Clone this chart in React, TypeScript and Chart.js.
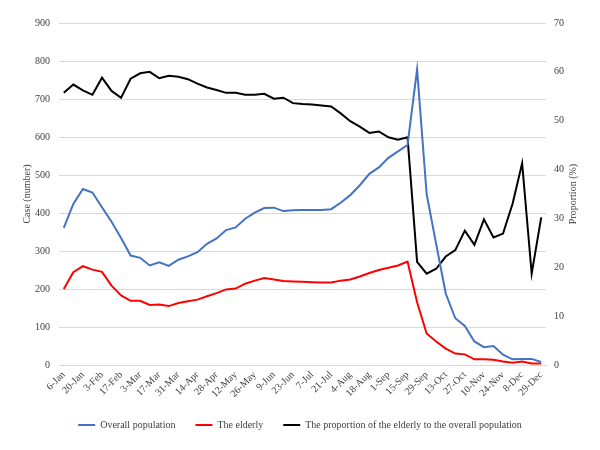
import React, { useEffect, useRef } from "react";
import { Chart, registerables } from "chart.js";
Chart.register(...registerables);

const labels = [
  "6-Jan", "13-Jan", "20-Jan", "27-Jan", "3-Feb", "10-Feb", "17-Feb", "24-Feb",
  "3-Mar", "10-Mar", "17-Mar", "24-Mar", "31-Mar", "7-Apr", "14-Apr", "21-Apr",
  "28-Apr", "5-May", "12-May", "19-May", "26-May", "2-Jun", "9-Jun", "16-Jun",
  "23-Jun", "30-Jun", "7-Jul", "14-Jul", "21-Jul", "28-Jul", "4-Aug", "11-Aug",
  "18-Aug", "25-Aug", "1-Sep", "8-Sep", "15-Sep", "22-Sep", "29-Sep", "6-Oct",
  "13-Oct", "20-Oct", "27-Oct", "3-Nov", "10-Nov", "17-Nov", "24-Nov", "1-Dec",
  "8-Dec", "15-Dec", "29-Dec",
];

const overall = [
  361, 424, 463, 454, 415, 377, 334, 288, 282, 262, 270, 261, 277, 286, 297, 319,
  333, 355, 362, 385, 401, 413, 414, 405, 407, 408, 408, 408, 410, 427, 447, 473,
  503, 520, 545, 562, 579, 778, 450, 318, 188, 123, 103, 62, 47, 50, 27, 15,
  16, 16, 8,
];

const elderly = [
  200, 244, 260, 251, 245, 209, 183, 169, 169, 158, 159, 155, 163, 168, 172, 181,
  189, 199, 201, 214, 222, 229, 225, 221, 220, 219, 218, 217, 217, 222, 225, 233,
  242, 250, 256, 262, 272, 165, 83, 62, 43, 30, 28, 15, 15, 14, 9, 6,
  9, 4, 4,
];

const proportion = [
  55.7, 57.4, 56.2, 55.3, 58.8, 56.1, 54.7, 58.6, 59.7, 60.0, 58.7, 59.2, 59.0, 58.5, 57.6, 56.8,
  56.3, 55.7, 55.7, 55.3, 55.3, 55.5, 54.5, 54.7, 53.6, 53.4, 53.3, 53.1, 52.9, 51.5, 49.9, 48.8,
  47.5, 47.8, 46.6, 46.1, 46.6, 21.1, 18.7, 19.7, 22.2, 23.5, 27.5, 24.6, 29.8, 26.1, 26.9, 33.0,
  41.3, 18.7, 30.2,
];

const seriesNames = [
  "Overall population",
  "The elderly",
  "The proportion of the elderly to the overall population",
];
const leftTitle = "Case (number)";
const rightTitle = "Proportion (%)";

const FONT = "'Liberation Serif', 'Times New Roman', serif";
const TEXT = "#404040";
const GRID = "#d9d9d9";

export default function App() {
  const ref = useRef<HTMLCanvasElement>(null);
  useEffect(() => {
    if (!ref.current) return;
    const titles = {
      id: "axisTitles",
      afterDraw(chart: any) {
        const ctx = chart.ctx;
        const a = chart.chartArea;
        const cy = (a.top + a.bottom) / 2;
        const draw = (text: string, x: number) => {
          ctx.save();
          ctx.fillStyle = TEXT;
          ctx.font = `10px ${FONT}`;
          ctx.textAlign = "center";
          ctx.textBaseline = "middle";
          ctx.translate(x, cy);
          ctx.rotate(-Math.PI / 2);
          ctx.fillText(text, 0, 0);
          ctx.restore();
        };
        draw(leftTitle, 27);
        draw(rightTitle, 573);
      },
    };
    const font = { family: FONT, size: 10 };
    const chart = new Chart(ref.current, {
      type: "line",
      data: {
        labels,
        datasets: [
          {
            label: seriesNames[0],
            data: overall,
            borderColor: "#4472C4",
            backgroundColor: "#4472C4",
            borderWidth: 2,
            pointRadius: 0,
            tension: 0,
            yAxisID: "y",
          },
          {
            label: seriesNames[1],
            data: elderly,
            borderColor: "#FF0000",
            backgroundColor: "#FF0000",
            borderWidth: 2,
            pointRadius: 0,
            tension: 0,
            yAxisID: "y",
          },
          {
            label: seriesNames[2],
            data: proportion,
            borderColor: "#000000",
            backgroundColor: "#000000",
            borderWidth: 2,
            pointRadius: 0,
            tension: 0,
            yAxisID: "y1",
          },
        ],
      },
      options: {
        responsive: false,
        animation: false,
        layout: { padding: { top: 23, left: 0, right: 0, bottom: 10 } },
        plugins: {
          legend: {
            position: "bottom",
            labels: {
              usePointStyle: true,
              pointStyle: "line",
              pointStyleWidth: 17,
              padding: 20,
              color: TEXT,
              font,
            },
          },
          tooltip: { enabled: false },
        },
        scales: {
          x: {
            offset: true,
            grid: { display: false, drawTicks: false },
            border: { color: GRID },
            ticks: {
              autoSkip: false,
              maxRotation: 45,
              minRotation: 45,
              padding: 4,
              color: TEXT,
              font,
              callback: (_v: any, i: number) => (i % 2 === 0 ? labels[i] : ""),
            },
            afterFit: (s: any) => {
              s.height = 35;
            },
          },
          y: {
            position: "left",
            min: 0,
            max: 900,
            ticks: { stepSize: 100, padding: 9, color: TEXT, font },
            grid: { color: GRID, drawTicks: false },
            border: { display: false },
            afterFit: (s: any) => {
              s.width = 59;
            },
          },
          y1: {
            position: "right",
            min: 0,
            max: 70,
            ticks: { stepSize: 10, padding: 8, color: TEXT, font },
            grid: { display: false, drawTicks: false },
            border: { display: false },
            afterFit: (s: any) => {
              s.width = 54;
            },
          },
        },
      },
      plugins: [titles],
    });
    return () => chart.destroy();
  }, []);
  return (
    <div style={{ position: "fixed", left: 0, top: 0, width: 600, height: 450, background: "#fff" }}>
      <canvas ref={ref} width={600} height={450} style={{ display: "block" }} />
    </div>
  );
}
